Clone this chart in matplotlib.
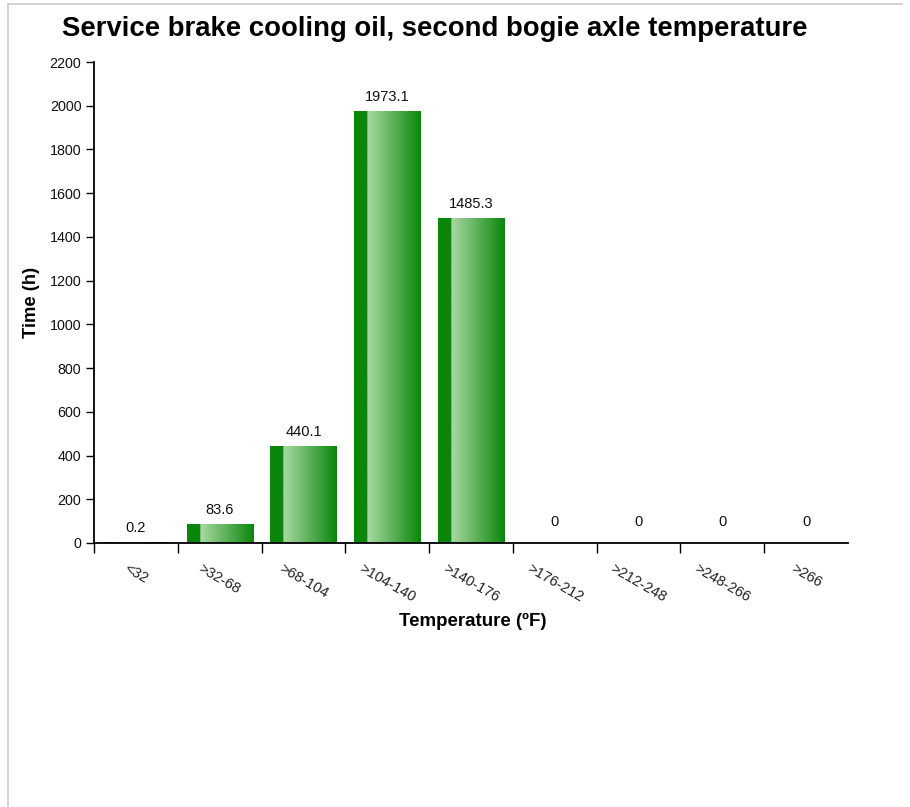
import numpy as np
import matplotlib
matplotlib.use("Agg")
import matplotlib.pyplot as plt
from matplotlib.colors import LinearSegmentedColormap
from matplotlib.lines import Line2D

plt.rcParams["font.family"] = ["Liberation Sans", "DejaVu Sans"]

# data
categories = ["˂32", "˃32-68", "˃68-104", "˃104-140", "˃140-176",
              "˃176-212", "˃212-248", "˃248-266", "˃266"]
hours = [0.2, 83.6, 440.1, 1973.1, 1485.3, 0, 0, 0, 0]
y_ticks = [0, 200, 400, 600, 800, 1000, 1200, 1400, 1600, 1800, 2000, 2200]

DARK, LIGHT = "#0a860a", "#a9d9a3"
INK = "#000000"

W, H = 910, 807
fig = plt.figure(figsize=(W / 100, H / 100), dpi=100)
ax = fig.add_axes([94 / W, 1 - 543 / H, (848 - 94) / W, (543 - 62) / H])

x = np.arange(len(categories))
bars = ax.bar(x, hours, width=0.79, color="none", edgecolor="none")

# horizontal gradient: solid dark strip on the left, then light -> dark
grad = LinearSegmentedColormap.from_list(
    "bar", [(0, DARK), (0.199, DARK), (0.2, LIGHT), (1, DARK)])
row = np.linspace(0, 1, 256).reshape(1, -1)
for b in bars:
    h = b.get_height()
    if h <= 0:
        continue
    x0, w = b.get_x(), b.get_width()
    ax.imshow(row, cmap=grad, aspect="auto", extent=(x0, x0 + w, 0, h),
              interpolation="bilinear", zorder=2)

for xi, v in zip(x, hours):
    off = 15 if v == 0 else 10.5
    ax.annotate(f"{v:g}", (xi, v), xytext=(0, off), textcoords="offset points",
                ha="center", va="center", fontsize=10.5, color="#111111")

ax.set_xlim(-0.5, len(categories) - 0.5)
ax.set_ylim(0, 2200)
ax.set_yticks(y_ticks)
ax.set_yticklabels([str(t) for t in y_ticks], fontsize=10.3, color="#111111")

# ticks at band edges, labels at band centres
ax.set_xticks(np.arange(len(categories)) - 0.5)
ax.set_xticklabels([])
ax.set_xticks(x, minor=True)
ax.set_xticklabels(categories, minor=True, rotation=-30, ha="center", va="top",
                   fontsize=10.5, color="#222222")
ax.tick_params(axis="x", which="minor", length=0, pad=13)
ax.tick_params(axis="x", which="major", length=7, width=1, color=INK)
ax.tick_params(axis="y", length=6, width=1, color=INK, pad=3)

for side in ("top", "right"):
    ax.spines[side].set_visible(False)
for side in ("left", "bottom"):
    ax.spines[side].set_color(INK)
    ax.spines[side].set_linewidth(1.3)

fig.text(435 / W, 1 - 29 / H, "Service brake cooling oil, second bogie axle temperature",
         ha="center", va="center", fontsize=19.8, fontweight="bold", color=INK)
fig.text(32 / W, 1 - 302 / H, "Time (h)", rotation=90, ha="center", va="center",
         fontsize=13.2, fontweight="bold", color=INK)
fig.text(473 / W, 1 - 621 / H, "Temperature (ºF)", ha="center", va="center",
         fontsize=13.5, fontweight="bold", color=INK)

# light frame on the left and top edges
fig.add_artist(Line2D([8 / W, 8 / W], [0, 1 - 4 / H], transform=fig.transFigure,
                      color="#cccccc", linewidth=1.2))
fig.add_artist(Line2D([8 / W, 902 / W], [1 - 4 / H, 1 - 4 / H], transform=fig.transFigure,
                      color="#cccccc", linewidth=1.2))

fig.savefig("out.png", dpi=100)
